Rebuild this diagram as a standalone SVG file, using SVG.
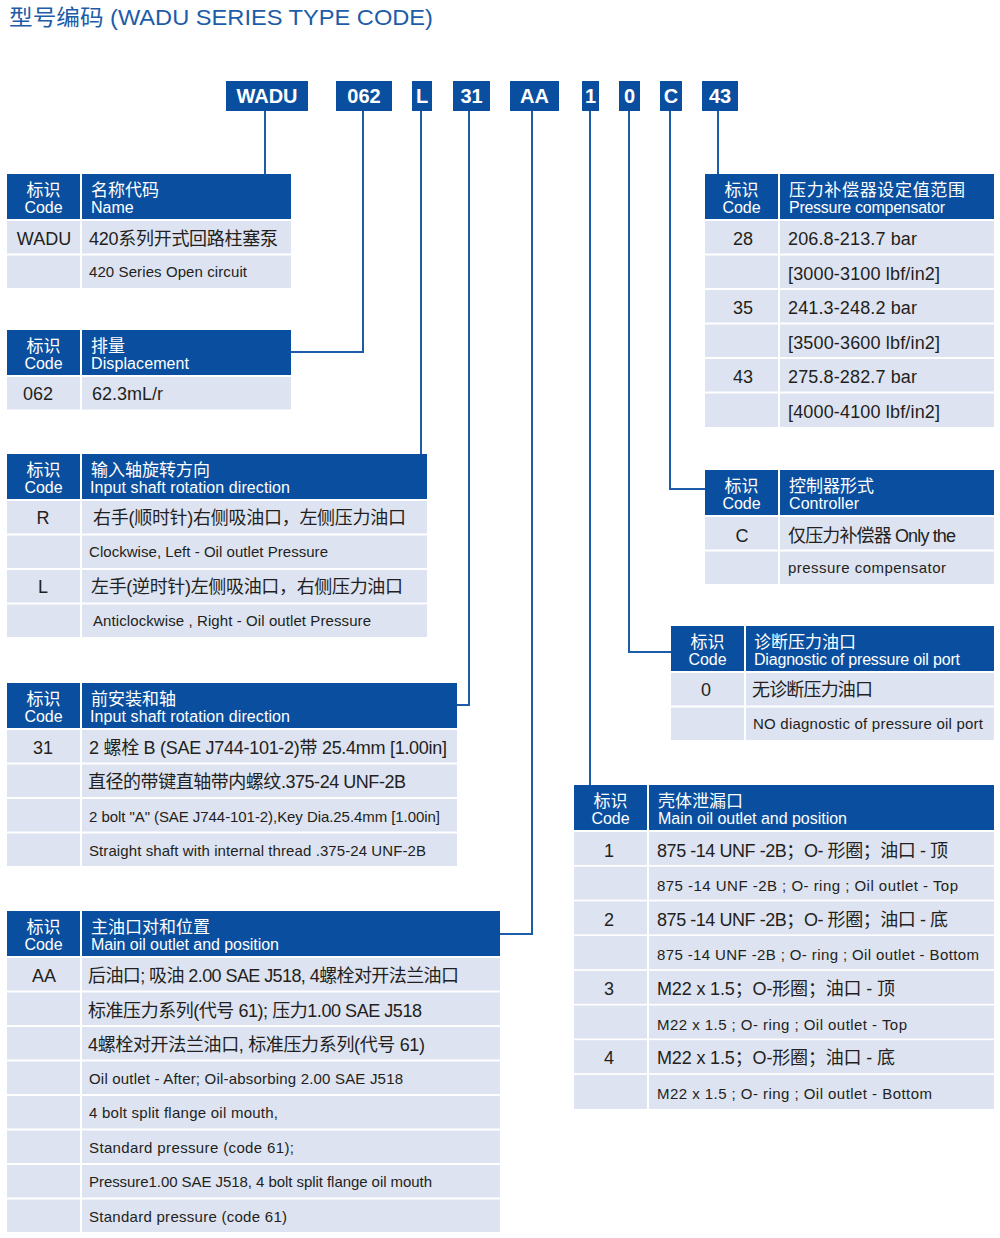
<svg xmlns="http://www.w3.org/2000/svg" width="1000" height="1238" viewBox="0 0 1000 1238">
<style>
text{font-family:"Liberation Sans","Noto Sans CJK SC",sans-serif;fill:#231f20}
.hd{fill:#0a4f9f}
.rw{fill:#dde3f1}
.ttl{fill:#1d5ca8;font-size:22px}
.bx{fill:#0a4f9f}
.bt{fill:#fff;font-weight:bold;font-size:20px;text-anchor:middle}
.hc{fill:#fff;font-size:17px}
.he{fill:#fff;font-size:16px}
.hm{text-anchor:middle}
.cn{font-size:18px}
.en{font-size:15px}
.cd{font-size:18px;text-anchor:middle}
.ln{fill:none;stroke:#1d5ca8;stroke-width:2}
</style>
<rect width="1000" height="1238" fill="#fff"/>
<text class="ttl" x="9" y="25" textLength="424" lengthAdjust="spacingAndGlyphs">型号编码 (WADU SERIES TYPE CODE)</text>

<g id="codes">
<g id="code-wadu"><rect class="bx" x="226" y="81" width="82" height="30"/><text class="bt" x="267" y="103">WADU</text></g>
<g id="code-062"><rect class="bx" x="336" y="81" width="56" height="30"/><text class="bt" x="364" y="103">062</text></g>
<g id="code-l"><rect class="bx" x="412" y="81" width="20" height="30"/><text class="bt" x="422" y="103">L</text></g>
<g id="code-31"><rect class="bx" x="453" y="81" width="37" height="30"/><text class="bt" x="471.5" y="103">31</text></g>
<g id="code-aa"><rect class="bx" x="510" y="81" width="49" height="30"/><text class="bt" x="534.5" y="103">AA</text></g>
<g id="code-1"><rect class="bx" x="582" y="81" width="17" height="30"/><text class="bt" x="590.5" y="103">1</text></g>
<g id="code-0"><rect class="bx" x="619" y="81" width="21" height="30"/><text class="bt" x="629.5" y="103">0</text></g>
<g id="code-c"><rect class="bx" x="660" y="81" width="22" height="30"/><text class="bt" x="671" y="103">C</text></g>
<g id="code-43"><rect class="bx" x="702" y="81" width="36" height="30"/><text class="bt" x="720" y="103">43</text></g>
</g>

<g id="connectors">
<path class="ln" d="M265 111V174"/>
<path class="ln" d="M363 111V352H291"/>
<path class="ln" d="M421 111V454"/>
<path class="ln" d="M469 111V705H457"/>
<path class="ln" d="M532 111V934H500"/>
<path class="ln" d="M590 111V785"/>
<path class="ln" d="M629 111V652H671"/>
<path class="ln" d="M670 111V489H705"/>
<path class="ln" d="M718 111V174"/>
</g>

<g id="t-name">
<rect class="hd" x="7" y="174" width="73" height="45"/><rect class="hd" x="82" y="174" width="209" height="45"/>
<text class="hc hm" x="43.5" y="196">标识</text><text class="he hm" x="43.5" y="213">Code</text>
<text class="hc" x="91" y="196">名称代码</text><text class="he" x="91" y="213">Name</text>
<rect class="rw" x="7" y="221" width="73" height="32.5"/><rect class="rw" x="82" y="221" width="209" height="32.5"/>
<rect class="rw" x="7" y="255.5" width="73" height="32.5"/><rect class="rw" x="82" y="255.5" width="209" height="32.5"/>
<text class="cd" x="44" y="245">WADU</text>
<text class="cn" x="89" y="245" textLength="189">420系列开式回路柱塞泵</text>
<text class="en" x="89" y="277" textLength="158">420 Series Open circuit</text>
</g>

<g id="t-disp">
<rect class="hd" x="7" y="330" width="73" height="45"/><rect class="hd" x="82" y="330" width="209" height="45"/>
<text class="hc hm" x="43.5" y="352">标识</text><text class="he hm" x="43.5" y="369">Code</text>
<text class="hc" x="91" y="352">排量</text><text class="he" x="91" y="369" textLength="98">Displacement</text>
<rect class="rw" x="7" y="377" width="73" height="32.5"/><rect class="rw" x="82" y="377" width="209" height="32.5"/>
<text class="cn" x="23" y="400">062</text>
<text class="cn" x="92" y="400">62.3mL/r</text>
</g>

<g id="t-rot">
<rect class="hd" x="7" y="454" width="73" height="45"/><rect class="hd" x="82" y="454" width="345" height="45"/>
<text class="hc hm" x="43.5" y="476">标识</text><text class="he hm" x="43.5" y="493">Code</text>
<text class="hc" x="91" y="476">输入轴旋转方向</text><text class="he" x="90" y="493" textLength="200">Input shaft rotation direction</text>
<rect class="rw" x="7" y="501" width="73" height="32.5"/><rect class="rw" x="82" y="501" width="345" height="32.5"/>
<rect class="rw" x="7" y="535.5" width="73" height="32.5"/><rect class="rw" x="82" y="535.5" width="345" height="32.5"/>
<rect class="rw" x="7" y="570" width="73" height="32.5"/><rect class="rw" x="82" y="570" width="345" height="32.5"/>
<rect class="rw" x="7" y="604.5" width="73" height="32.5"/><rect class="rw" x="82" y="604.5" width="345" height="32.5"/>
<text class="cd" x="43" y="524">R</text>
<text class="cn" x="93" y="524" textLength="313">右手(顺时针)右侧吸油口，左侧压力油口</text>
<text class="en" x="89" y="557" textLength="239">Clockwise, Left - Oil outlet Pressure</text>
<text class="cd" x="43" y="593">L</text>
<text class="cn" x="91" y="593" textLength="312">左手(逆时针)左侧吸油口，右侧压力油口</text>
<text class="en" x="93" y="626" textLength="278">Anticlockwise , Right - Oil outlet Pressure</text>
</g>

<g id="t-mount">
<rect class="hd" x="7" y="683" width="73" height="45"/><rect class="hd" x="82" y="683" width="375" height="45"/>
<text class="hc hm" x="43.5" y="705">标识</text><text class="he hm" x="43.5" y="722">Code</text>
<text class="hc" x="91" y="705">前安装和轴</text><text class="he" x="90" y="722" textLength="200">Input shaft rotation direction</text>
<rect class="rw" x="7" y="730" width="73" height="32.5"/><rect class="rw" x="82" y="730" width="375" height="32.5"/>
<rect class="rw" x="7" y="764.5" width="73" height="32.5"/><rect class="rw" x="82" y="764.5" width="375" height="32.5"/>
<rect class="rw" x="7" y="799" width="73" height="32.5"/><rect class="rw" x="82" y="799" width="375" height="32.5"/>
<rect class="rw" x="7" y="833.5" width="73" height="32.5"/><rect class="rw" x="82" y="833.5" width="375" height="32.5"/>
<text class="cd" x="43" y="754">31</text>
<text class="cn" x="89" y="754" textLength="358">2 螺栓 B (SAE J744-101-2)带 25.4mm [1.00in]</text>
<text class="cn" x="88" y="788" textLength="318">直径的带键直轴带内螺纹.375-24 UNF-2B</text>
<text class="en" x="89" y="822" textLength="351">2 bolt "A" (SAE J744-101-2),Key Dia.25.4mm [1.00in]</text>
<text class="en" x="89" y="856" textLength="337">Straight shaft with internal thread .375-24 UNF-2B</text>
</g>

<g id="t-main">
<rect class="hd" x="7" y="911" width="73" height="45"/><rect class="hd" x="82" y="911" width="418" height="45"/>
<text class="hc hm" x="43.5" y="933">标识</text><text class="he hm" x="43.5" y="950">Code</text>
<text class="hc" x="91" y="933">主油口对和位置</text><text class="he" x="91" y="950" textLength="188">Main oil outlet and position</text>
<rect class="rw" x="7" y="958" width="73" height="32.5"/><rect class="rw" x="82" y="958" width="418" height="32.5"/>
<rect class="rw" x="7" y="992.5" width="73" height="32.5"/><rect class="rw" x="82" y="992.5" width="418" height="32.5"/>
<rect class="rw" x="7" y="1027" width="73" height="32.5"/><rect class="rw" x="82" y="1027" width="418" height="32.5"/>
<rect class="rw" x="7" y="1061.5" width="73" height="32.5"/><rect class="rw" x="82" y="1061.5" width="418" height="32.5"/>
<rect class="rw" x="7" y="1096" width="73" height="32.5"/><rect class="rw" x="82" y="1096" width="418" height="32.5"/>
<rect class="rw" x="7" y="1130.5" width="73" height="32.5"/><rect class="rw" x="82" y="1130.5" width="418" height="32.5"/>
<rect class="rw" x="7" y="1165" width="73" height="32.5"/><rect class="rw" x="82" y="1165" width="418" height="32.5"/>
<rect class="rw" x="7" y="1199.5" width="73" height="32.5"/><rect class="rw" x="82" y="1199.5" width="418" height="32.5"/>
<text class="cd" x="44" y="982">AA</text>
<text class="cn" x="88" y="982" textLength="371">后油口; 吸油 2.00 SAE J518, 4螺栓对开法兰油口</text>
<text class="cn" x="88" y="1017" textLength="334">标准压力系列(代号 61); 压力1.00 SAE J518</text>
<text class="cn" x="88" y="1051" textLength="337">4螺栓对开法兰油口, 标准压力系列(代号 61)</text>
<text class="en" x="89" y="1084" textLength="314">Oil outlet - After;  Oil-absorbing 2.00 SAE J518</text>
<text class="en" x="89" y="1118" textLength="189">4 bolt split flange oil mouth,</text>
<text class="en" x="89" y="1153" textLength="205">Standard pressure (code 61);</text>
<text class="en" x="89" y="1187" textLength="343">Pressure1.00 SAE J518, 4 bolt split flange oil mouth</text>
<text class="en" x="89" y="1222" textLength="198">Standard pressure (code 61)</text>
</g>

<g id="t-press">
<rect class="hd" x="705" y="174" width="73" height="45"/><rect class="hd" x="780" y="174" width="214" height="45"/>
<text class="hc hm" x="741.5" y="196">标识</text><text class="he hm" x="741.5" y="213">Code</text>
<text class="hc" x="789" y="196" textLength="176">压力补偿器设定值范围</text><text class="he" x="789" y="213" textLength="156">Pressure compensator</text>
<rect class="rw" x="705" y="221" width="73" height="32.5"/><rect class="rw" x="780" y="221" width="214" height="32.5"/>
<rect class="rw" x="705" y="255.5" width="73" height="32.5"/><rect class="rw" x="780" y="255.5" width="214" height="32.5"/>
<rect class="rw" x="705" y="290" width="73" height="32.5"/><rect class="rw" x="780" y="290" width="214" height="32.5"/>
<rect class="rw" x="705" y="324.5" width="73" height="32.5"/><rect class="rw" x="780" y="324.5" width="214" height="32.5"/>
<rect class="rw" x="705" y="359" width="73" height="32.5"/><rect class="rw" x="780" y="359" width="214" height="32.5"/>
<rect class="rw" x="705" y="393.5" width="73" height="33.5"/><rect class="rw" x="780" y="393.5" width="214" height="33.5"/>
<text class="cd" x="743" y="245">28</text>
<text class="cn" x="788" y="245" textLength="129">206.8-213.7 bar</text>
<text class="cn" x="788" y="280" textLength="152">[3000-3100 lbf/in2]</text>
<text class="cd" x="743" y="314">35</text>
<text class="cn" x="788" y="314" textLength="129">241.3-248.2 bar</text>
<text class="cn" x="788" y="349" textLength="152">[3500-3600 lbf/in2]</text>
<text class="cd" x="743" y="383">43</text>
<text class="cn" x="788" y="383" textLength="129">275.8-282.7 bar</text>
<text class="cn" x="788" y="418" textLength="152">[4000-4100 lbf/in2]</text>
</g>

<g id="t-ctrl">
<rect class="hd" x="705" y="470" width="73" height="45"/><rect class="hd" x="780" y="470" width="214" height="45"/>
<text class="hc hm" x="741.5" y="492">标识</text><text class="he hm" x="741.5" y="509">Code</text>
<text class="hc" x="789" y="492">控制器形式</text><text class="he" x="789" y="509" textLength="70">Controller</text>
<rect class="rw" x="705" y="517" width="73" height="32.5"/><rect class="rw" x="780" y="517" width="214" height="32.5"/>
<rect class="rw" x="705" y="551.5" width="73" height="32.5"/><rect class="rw" x="780" y="551.5" width="214" height="32.5"/>
<text class="cd" x="742" y="542">C</text>
<text class="cn" x="788" y="542" textLength="168">仅压力补偿器 Only the</text>
<text class="en" x="788" y="573" textLength="158">pressure compensator</text>
</g>

<g id="t-diag">
<rect class="hd" x="671" y="626" width="73" height="45"/><rect class="hd" x="746" y="626" width="248" height="45"/>
<text class="hc hm" x="707.5" y="648">标识</text><text class="he hm" x="707.5" y="665">Code</text>
<text class="hc" x="754" y="648">诊断压力油口</text><text class="he" x="754" y="665" textLength="206">Diagnostic of pressure oil port</text>
<rect class="rw" x="671" y="673" width="73" height="32.5"/><rect class="rw" x="746" y="673" width="248" height="32.5"/>
<rect class="rw" x="671" y="707.5" width="73" height="32.5"/><rect class="rw" x="746" y="707.5" width="248" height="32.5"/>
<text class="cd" x="706" y="696">0</text>
<text class="cn" x="752" y="696" textLength="121">无诊断压力油口</text>
<text class="en" x="753" y="729" textLength="230">NO diagnostic of pressure oil port</text>
</g>

<g id="t-leak">
<rect class="hd" x="574" y="785" width="73" height="45"/><rect class="hd" x="649" y="785" width="345" height="45"/>
<text class="hc hm" x="610.5" y="807">标识</text><text class="he hm" x="610.5" y="824">Code</text>
<text class="hc" x="658" y="807">壳体泄漏口</text><text class="he" x="658" y="824" textLength="189">Main oil outlet and position</text>
<rect class="rw" x="574" y="832" width="73" height="33"/><rect class="rw" x="649" y="832" width="345" height="33"/>
<rect class="rw" x="574" y="866.7" width="73" height="33"/><rect class="rw" x="649" y="866.7" width="345" height="33"/>
<rect class="rw" x="574" y="901.4" width="73" height="33"/><rect class="rw" x="649" y="901.4" width="345" height="33"/>
<rect class="rw" x="574" y="936.1" width="73" height="33"/><rect class="rw" x="649" y="936.1" width="345" height="33"/>
<rect class="rw" x="574" y="970.8" width="73" height="33"/><rect class="rw" x="649" y="970.8" width="345" height="33"/>
<rect class="rw" x="574" y="1005.5" width="73" height="33"/><rect class="rw" x="649" y="1005.5" width="345" height="33"/>
<rect class="rw" x="574" y="1040.2" width="73" height="33"/><rect class="rw" x="649" y="1040.2" width="345" height="33"/>
<rect class="rw" x="574" y="1074.9" width="73" height="34"/><rect class="rw" x="649" y="1074.9" width="345" height="34"/>
<text class="cd" x="609" y="857">1</text>
<text class="cn" x="657" y="857" textLength="291">875 -14 UNF -2B；O- 形圈；油口 - 顶</text>
<text class="en" x="657" y="891" textLength="301">875 -14 UNF -2B ;  O- ring ; Oil outlet - Top</text>
<text class="cd" x="609" y="926">2</text>
<text class="cn" x="657" y="926" textLength="291">875 -14 UNF -2B；O- 形圈；油口 - 底</text>
<text class="en" x="657" y="960" textLength="322">875 -14 UNF -2B ;  O- ring ; Oil outlet - Bottom</text>
<text class="cd" x="609" y="995">3</text>
<text class="cn" x="657" y="995" textLength="238">M22 x 1.5；O-形圈；油口 - 顶</text>
<text class="en" x="657" y="1030" textLength="250">M22 x 1.5 ;  O- ring ; Oil outlet - Top</text>
<text class="cd" x="609" y="1064">4</text>
<text class="cn" x="657" y="1064" textLength="238">M22 x 1.5；O-形圈；油口 - 底</text>
<text class="en" x="657" y="1099" textLength="275">M22 x 1.5 ;  O- ring ; Oil outlet - Bottom</text>
</g>
</svg>
